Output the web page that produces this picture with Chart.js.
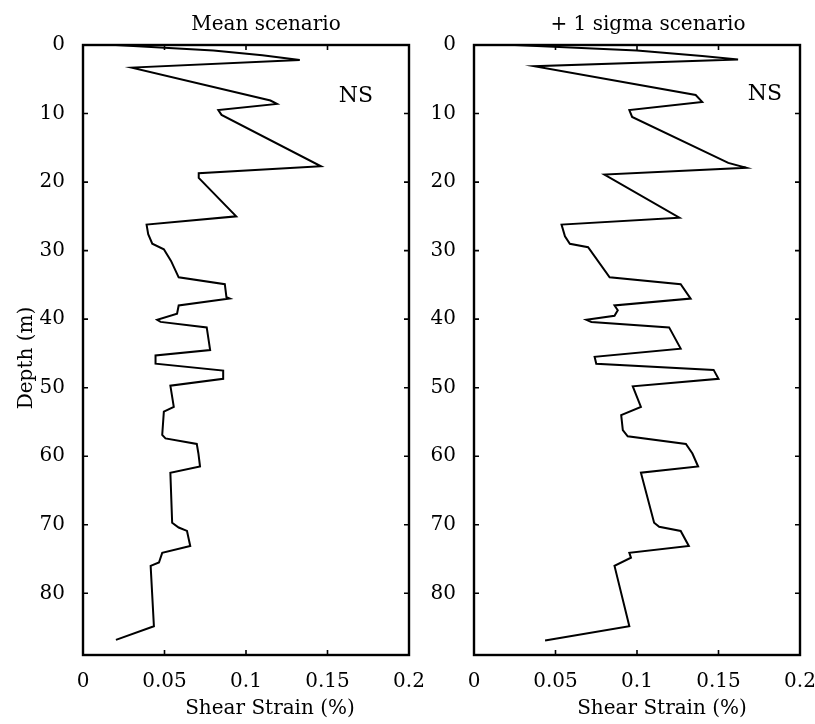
<!DOCTYPE html>
<html><head><meta charset="utf-8">
<script src="https://cdn.jsdelivr.net/npm/chart.js@4.4.1/dist/chart.umd.min.js"></script>
<style>
html,body{margin:0;padding:0;background:#fff;overflow:hidden;}
#wrap{position:relative;width:815px;height:724px;background:#fff;}
canvas{position:absolute;left:0;top:0;}
</style></head><body>
<div id="wrap"><canvas id="c1" width="815" height="724"></canvas><canvas id="c2" width="815" height="724"></canvas></div>
<script>
// ---- data ----
const depthTicks = [0, 10, 20, 30, 40, 50, 60, 70, 80];
const strainTicks = [0, 0.05, 0.1, 0.15, 0.2];
const strainTickLabels = ['0', '0.05', '0.1', '0.15', '0.2'];

const meanDepth  = [0, 0.8, 1.5, 2.2, 3.3, 8.1, 8.6, 9.5, 10.2, 17.7, 18.7, 19.4, 25.0, 26.2, 27.6, 29.0, 29.8, 31.5, 33.9, 34.9, 36.8, 37.0, 38.0, 39.2, 40.1, 40.4, 41.2, 44.5, 45.3, 46.5, 47.5, 48.7, 49.7, 52.8, 53.5, 56.9, 57.4, 58.2, 59.6, 61.5, 62.4, 69.7, 70.4, 70.9, 73.1, 74.1, 75.5, 76.0, 84.8, 86.8];
const meanStrain = [0.020, 0.080, 0.110, 0.133, 0.030, 0.115, 0.119, 0.083, 0.085, 0.146, 0.071, 0.071, 0.094, 0.039, 0.040, 0.0425, 0.0496, 0.054, 0.0587, 0.087, 0.088, 0.090, 0.0587, 0.0577, 0.0455, 0.0476, 0.0759, 0.078, 0.0445, 0.0445, 0.086, 0.086, 0.0536, 0.0557, 0.0496, 0.0486, 0.0506, 0.0698, 0.0708, 0.0718, 0.0536, 0.0547, 0.0587, 0.0638, 0.0658, 0.0486, 0.0466, 0.0415, 0.0435, 0.0202];

const sigmaDepth  = [0, 0.8, 1.6, 2.1, 3.1, 7.3, 8.3, 9.5, 10.5, 17.2, 17.9, 18.9, 25.2, 26.2, 27.9, 29.0, 29.5, 33.9, 34.9, 37.0, 38.0, 38.7, 39.5, 40.1, 40.4, 41.2, 44.3, 45.5, 46.5, 47.4, 48.7, 49.8, 52.8, 54.0, 56.2, 57.1, 58.2, 59.6, 61.5, 62.4, 69.7, 70.3, 70.9, 73.1, 74.1, 74.8, 76.0, 84.8, 86.9];
const sigmaStrain = [0.025, 0.100, 0.140, 0.162, 0.037, 0.136, 0.140, 0.0953, 0.097, 0.156, 0.167, 0.080, 0.126, 0.0537, 0.0558, 0.0588, 0.070, 0.0832, 0.1268, 0.1329, 0.0862, 0.0882, 0.0862, 0.069, 0.072, 0.1197, 0.1268, 0.074, 0.075, 0.147, 0.150, 0.0974, 0.1024, 0.0903, 0.0913, 0.0943, 0.130, 0.134, 0.1375, 0.1024, 0.1105, 0.1136, 0.1268, 0.1318, 0.0953, 0.0963, 0.0862, 0.0953, 0.0436];

const panelTitles = ['Mean scenario', '+ 1 sigma scenario'];
const xAxisTitle = 'Shear Strain (%)';
const yAxisTitle = 'Depth (m)';
const noteText = 'NS';

// ---- drawing ----
const FONT = '"DejaVu Serif", "Liberation Serif", serif';

const framePlugin = {
  id: 'frame',
  afterDraw(chart, args, o) {
    const {ctx, chartArea: a} = chart;
    const x = chart.scales.x, y = chart.scales.y;
    ctx.save();
    ctx.strokeStyle = '#000';
    ctx.lineWidth = 2.4;
    ctx.strokeRect(a.left, a.top, a.right - a.left, a.bottom - a.top);
    ctx.lineWidth = 1.6;
    const L = 5;
    ctx.beginPath();
    x.ticks.forEach(t => {
      const p = x.getPixelForValue(t.value);
      if (p <= a.left + 1 || p >= a.right - 1) return;
      ctx.moveTo(p, a.bottom); ctx.lineTo(p, a.bottom - L);
      ctx.moveTo(p, a.top); ctx.lineTo(p, a.top + L);
    });
    y.ticks.forEach(t => {
      const p = y.getPixelForValue(t.value);
      if (p <= a.top + 1 || p >= a.bottom - 1) return;
      ctx.moveTo(a.left, p); ctx.lineTo(a.left + L, p);
      ctx.moveTo(a.right, p); ctx.lineTo(a.right - L, p);
    });
    ctx.stroke();

    ctx.fillStyle = '#000';
    ctx.textAlign = 'center';
    ctx.textBaseline = 'alphabetic';
    ctx.font = '20px ' + FONT;
    ctx.fillText(o.title, o.titleX, 30);
    ctx.fillText(xAxisTitle, o.xTitleX, 714);
    if (o.showY) {
      ctx.save();
      ctx.translate(32, 358);
      ctx.rotate(-Math.PI / 2);
      ctx.fillText(yAxisTitle, 0, 0);
      ctx.restore();
    }
    ctx.font = '22px ' + FONT;
    ctx.fillText(noteText, o.noteX, o.noteY);
    ctx.restore();
  }
};

function makeChart(id, depth, strain, pad, yWidth, frameOpts) {
  const pts = depth.map((d, i) => ({x: strain[i], y: d}));
  return new Chart(document.getElementById(id), {
    type: 'scatter',
    data: {datasets: [{data: pts, showLine: true, pointRadius: 0, borderColor: '#000', borderWidth: 2, fill: false, tension: 0}]},
    options: {
      responsive: false, animation: false, devicePixelRatio: 1,
      layout: {padding: pad},
      plugins: {legend: {display: false}, title: {display: false}, tooltip: {enabled: false}, frame: frameOpts},
      scales: {
        x: {
          type: 'linear', min: 0, max: 0.2,
          grid: {display: false}, border: {display: false},
          afterBuildTicks: s => { s.ticks = strainTicks.map(v => ({value: v})); },
          afterFit: s => { s.height = 69; s.paddingLeft = 0; s.paddingRight = 0; },
          ticks: {color: '#000', font: {family: FONT, size: 20}, padding: 7, maxRotation: 0,
                  callback: (v, i) => strainTickLabels[i]}
        },
        y: {
          type: 'linear', min: 0, max: 89, reverse: true,
          grid: {display: false}, border: {display: false},
          afterBuildTicks: s => { s.ticks = depthTicks.map(v => ({value: v})); },
          afterFit: s => { s.width = yWidth; s.paddingTop = 0; s.paddingBottom = 0; },
          ticks: {color: '#000', font: {family: FONT, size: 20}, padding: 10,
                  callback: v => String(v)}
        }
      }
    },
    plugins: [framePlugin]
  });
}

makeChart('c1', meanDepth, meanStrain, {left: 0, right: 406, top: 45, bottom: 0}, 83,
  {title: panelTitles[0], titleX: 266, xTitleX: 270, showY: true, noteX: 356, noteY: 102});
makeChart('c2', sigmaDepth, sigmaStrain, {left: 410, right: 15, top: 45, bottom: 0}, 64,
  {title: panelTitles[1], titleX: 648, xTitleX: 662, showY: false, noteX: 765, noteY: 100});
</script>
</body></html>
